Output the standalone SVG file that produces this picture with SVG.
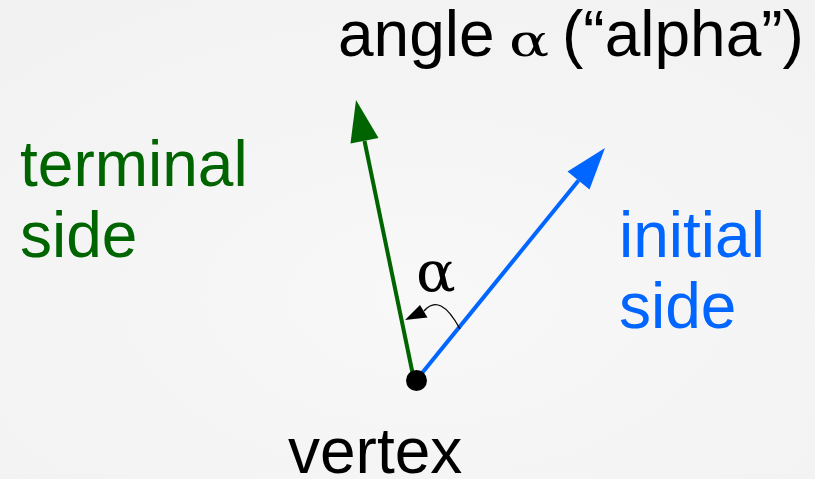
<svg xmlns="http://www.w3.org/2000/svg" width="815" height="479" viewBox="0 0 815 479">
  <defs>
    <radialGradient id="bg" cx="52%" cy="62%" r="70%">
      <stop offset="0" stop-color="#f8f8f8"/>
      <stop offset="1" stop-color="#f2f2f2"/>
    </radialGradient>
    <style>
      .lbl { font-family: "Liberation Sans", Arial, sans-serif; font-size: 64px; }
      .greek { font-family: "DejaVu Serif", "Liberation Serif", serif; font-style: normal; }
      .green { fill: #006400; }
      .blue { fill: #0066ff; }
      .dark { fill: #000000; }
    </style>
  </defs>
  <rect width="815" height="479" fill="url(#bg)"/>

  <g id="title">
    <text class="lbl dark" x="338" y="56">angle</text>
    <text class="greek dark" font-size="44" transform="translate(509,56) scale(1.35,1)">α</text>
    <text class="lbl dark" x="562" y="56">(“alpha”)</text>
  </g>

  <g id="connectors">
    <g id="terminal-ray">
      <line x1="414" y1="380" x2="364.5" y2="141" stroke="#006400" stroke-width="4"/>
      <polygon points="356,100 350.5,143.5 378.5,138" fill="#006400"/>
    </g>
    <g id="initial-ray">
      <line x1="418" y1="378" x2="578.5" y2="180.5" stroke="#0066ff" stroke-width="4"/>
      <polygon points="605,148 567.5,171.5 589.5,189.5" fill="#0066ff"/>
    </g>
    <g id="angle-arc">
      <path d="M460,329 Q440,292 424,311" fill="none" stroke="#000" stroke-width="1.3"/>
      <polygon points="405,320 420,305 427.5,317.5" fill="#000"/>
    </g>
  </g>

  <g id="vertex">
    <circle cx="416.5" cy="380.5" r="10.5" fill="#000"/>
    <text class="lbl dark" x="288" y="473">vertex</text>
  </g>

  <g id="terminal-side">
    <text class="lbl green" x="20" y="186">terminal</text>
    <text class="lbl green" x="20" y="257">side</text>
  </g>

  <g id="initial-side">
    <text class="lbl blue" x="619" y="257">initial</text>
    <text class="lbl blue" x="619" y="328">side</text>
  </g>

  <g id="alpha-label">
    <text class="greek dark" font-size="56" transform="translate(416,291) scale(1.05,1)">α</text>
  </g>
</svg>
